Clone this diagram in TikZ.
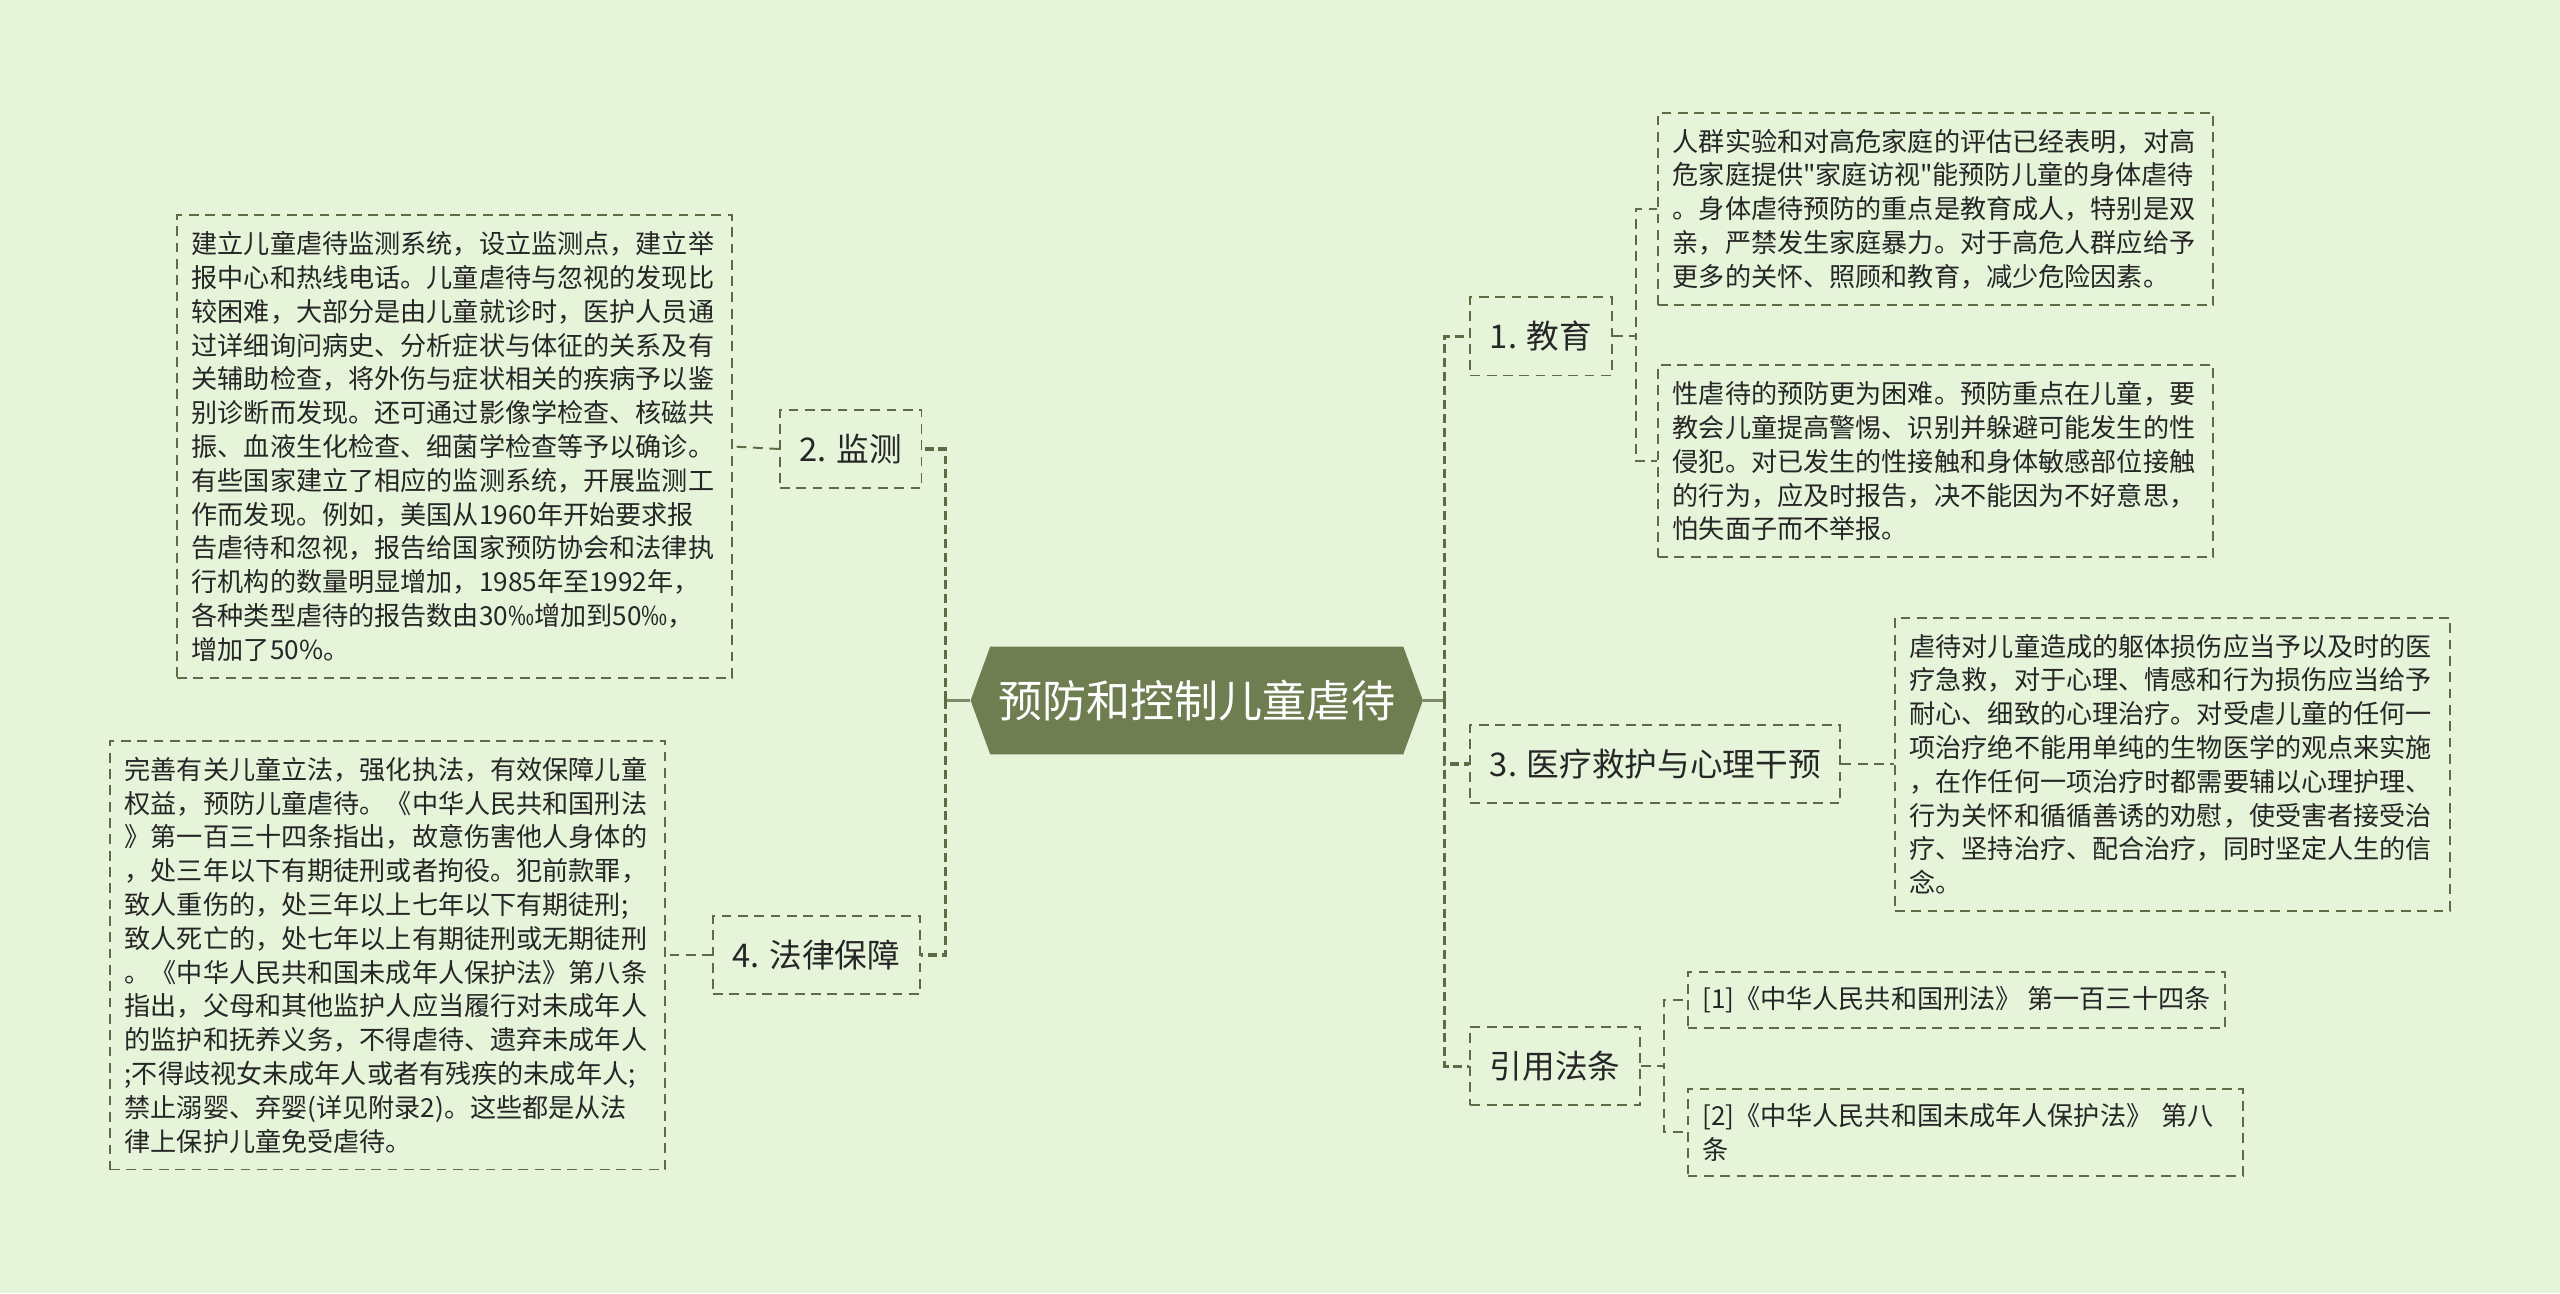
\documentclass[tikz,border=0pt]{standalone}
\usepackage{fontspec}
\setmainfont{Noto Sans CJK SC}[Ligatures=TeXOff]
\usetikzlibrary{shapes.symbols, positioning}

\definecolor{bgcol}{HTML}{E6F4DA}
\definecolor{linecol}{HTML}{5E6B45}
\definecolor{rootcol}{HTML}{6E7E51}
\definecolor{txtcol}{HTML}{262626}

\begin{document}
\begin{tikzpicture}[
    x=1pt, y=-1pt,
    root/.style={signal, signal to=west and east, signal pointer angle=140, fill=rootcol, text=white, minimum height=66pt, inner xsep=5pt, font=\fontsize{27}{30}\selectfont},
    branch/.style={rectangle, draw=linecol, dash pattern=on 6pt off 4pt, line width=1.2pt, minimum height=48pt, inner xsep=12pt, text=txtcol, font=\fontsize{20}{24}\selectfont},
    leaf/.style={rectangle, draw=linecol, dash pattern=on 6pt off 4pt, line width=1.2pt, text width=322pt, align=left, inner xsep=9pt, inner ysep=10pt, text=txtcol, font=\fontsize{16}{20.7}\selectfont},
    stub/.style={draw=linecol!80, line width=2pt},
    spine/.style={draw=linecol, line width=2pt, dash pattern=on 5.5pt off 3pt},
    link/.style={draw=linecol, line width=1.2pt, dash pattern=on 6pt off 4pt}
]
\useasboundingbox[fill=bgcol] (0,0) rectangle (1568,792);

% Root
\node[root] (root) at (733,429) {预防和控制儿童虐待};

% Branches
\node[branch, anchor=west] (edu) at (900,206) {1. 教育};
\node[branch, anchor=east] (mon) at (565,275) {2. 监测};
\node[branch, anchor=west] (med) at (900,468) {3. 医疗救护与心理干预};
\node[branch, anchor=east] (law) at (564,585) {4. 法律保障};
\node[branch, anchor=west] (refs) at (900,653) {引用法条};

% Leaves
\node[leaf, anchor=east] (monleaf) at (449,273.5) {建立儿童虐待监测系统，设立监测点，建立举\\报中心和热线电话。儿童虐待与忽视的发现比\\较困难，大部分是由儿童就诊时，医护人员通\\过详细询问病史、分析症状与体征的关系及有\\关辅助检查，将外伤与症状相关的疾病予以鉴\\别诊断而发现。还可通过影像学检查、核磁共\\振、血液生化检查、细菌学检查等予以确诊。\\有些国家建立了相应的监测系统，开展监测工\\作而发现。例如，美国从1960年开始要求报\\告虐待和忽视，报告给国家预防协会和法律执\\行机构的数量明显增加，1985年至1992年，\\各种类型虐待的报告数由30‰增加到50‰，\\增加了50\%。};
\node[leaf, anchor=east] (lawleaf) at (408,585) {完善有关儿童立法，强化执法，有效保障儿童\\权益，预防儿童虐待。《中华人民共和国刑法\\》第一百三十四条指出，故意伤害他人身体的\\，处三年以下有期徒刑或者拘役。犯前款罪，\\致人重伤的，处三年以上七年以下有期徒刑;\\致人死亡的，处七年以上有期徒刑或无期徒刑\\。《中华人民共和国未成年人保护法》第八条\\指出，父母和其他监护人应当履行对未成年人\\的监护和抚养义务，不得虐待、遗弃未成年人\\;不得歧视女未成年人或者有残疾的未成年人;\\禁止溺婴、弃婴(详见附录2)。这些都是从法\\律上保护儿童免受虐待。};
\node[leaf, anchor=west] (edua) at (1015,128) {人群实验和对高危家庭的评估已经表明，对高\\危家庭提供"家庭访视"能预防儿童的身体虐待\\。身体虐待预防的重点是教育成人，特别是双\\亲，严禁发生家庭暴力。对于高危人群应给予\\更多的关怀、照顾和教育，减少危险因素。};
\node[leaf, anchor=west] (edub) at (1015,282.5) {性虐待的预防更为困难。预防重点在儿童，要\\教会儿童提高警惕、识别并躲避可能发生的性\\侵犯。对已发生的性接触和身体敏感部位接触\\的行为，应及时报告，决不能因为不好意思，\\怕失面子而不举报。};
\node[leaf, anchor=west] (medleaf) at (1160,468) {虐待对儿童造成的躯体损伤应当予以及时的医\\疗急救，对于心理、情感和行为损伤应当给予\\耐心、细致的心理治疗。对受虐儿童的任何一\\项治疗绝不能用单纯的生物医学的观点来实施\\，在作任何一项治疗时都需要辅以心理护理、\\行为关怀和循循善诱的劝慰，使受害者接受治\\疗、坚持治疗、配合治疗，同时坚定人生的信\\念。};
\node[leaf, anchor=west, text width=, inner ysep=9pt] (refa) at (1033,612.5) {[1]《中华人民共和国刑法》 第一百三十四条};
\node[leaf, anchor=west, inner ysep=9pt] (refb) at (1033,693.5) {[2]《中华人民共和国未成年人保护法》 第八\\条};

% Root to branches
\draw[stub] (root.west) -- ++(-15,0) coordinate (lspine);
\draw[stub] (root.east) -- ++(13,0) coordinate (rspine);
\draw[spine] (lspine) |- (mon.east);
\draw[spine] (lspine) |- (law.east);
\draw[spine] (rspine) |- (edu.west);
\draw[spine] (rspine) |- (med.west);
\draw[spine] (rspine) |- (refs.west);

% Branches to leaves
\draw[link] (mon.west) -- (monleaf.east);
\draw[link] (law.west) -- (lawleaf.east);
\draw[link] (edu.east) -- ++(14,0) |- (edua.west);
\draw[link] (edu.east) -- ++(14,0) |- (edub.west);
\draw[link] (med.east) -- (medleaf.west);
\draw[link] (refs.east) -- ++(14,0) |- (refa.west);
\draw[link] (refs.east) -- ++(14,0) |- (refb.west);

\end{tikzpicture}
\end{document}
